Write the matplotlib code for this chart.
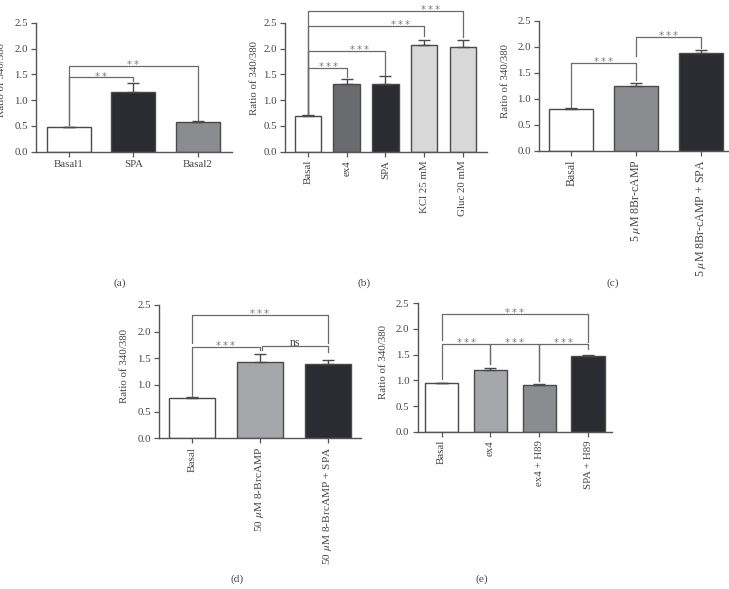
import numpy as np
import matplotlib
matplotlib.use("Agg")
import matplotlib.pyplot as plt

plt.rcParams['font.family'] = ['Liberation Serif', 'DejaVu Serif']
plt.rcParams['mathtext.fontset'] = 'stix'

# ---------------- data ----------------
a_labels = ["Basal1", "SPA", "Basal2"]
a_values = [0.47, 1.16, 0.57]
a_errors = [0.01, 0.17, 0.02]

b_labels = ["Basal", "ex4", "SPA", "KCl 25 mM", "Gluc 20 mM"]
b_values = [0.70, 1.31, 1.32, 2.06, 2.03]
b_errors = [0.01, 0.10, 0.15, 0.11, 0.14]

c_labels = ["Basal", r"5 $\mu$M 8Br-cAMP", r"5 $\mu$M 8Br-cAMP + SPA"]
c_values = [0.81, 1.25, 1.88]
c_errors = [0.01, 0.06, 0.06]

d_labels = ["Basal", r"50 $\mu$M 8-BrcAMP", r"50 $\mu$M 8-BrcAMP + SPA"]
d_values = [0.755, 1.44, 1.39]
d_errors = [0.015, 0.15, 0.08]

e_labels = ["Basal", "ex4", "ex4 + H89", "SPA + H89"]
e_values = [0.94, 1.21, 0.91, 1.48]
e_errors = [0.01, 0.04, 0.02, 0.01]

yticks = [0.0, 0.5, 1.0, 1.5, 2.0, 2.5]
ylabel = "Ratio of 340/380"

# significance brackets: (i, j, height, left leg end, right leg end, text, text fraction)
a_brackets = [(0, 1, 1.44, 0.52, 1.37, "**", 0.5),
              (0, 2, 1.66, 0.52, 0.62, "**", 0.5)]
b_brackets = [(0, 1, 1.62, 0.73, 1.45, "***", 0.54),
              (0, 2, 1.96, 0.73, 1.48, "***", 0.66),
              (0, 3, 2.44, 0.73, 2.24, "***", 0.80),
              (0, 4, 2.73, 0.73, 2.22, "***", 0.79)]
c_brackets = [(0, 1, 1.70, 0.85, 1.37, "***", 0.5),
              (1, 2, 2.20, 1.83, 1.98, "***", 0.5)]
d_brackets = [(0, 2, 2.31, 1.78, 1.78, "***", 0.5),
              (0, 1, 1.72, 0.80, 1.65, "***", 0.5),
              (1.03, 2, 1.74, 1.65, 1.62, "ns", 0.5)]
e_brackets = [(0, 3, 2.29, 1.78, 1.75, "***", 0.5),
              (0, 1, 1.71, 1.03, 1.32, "***", 0.5),
              (1, 2, 1.71, 1.32, 0.99, "***", 0.5),
              (2, 3, 1.71, 0.99, 1.61, "***", 0.5)]

# ---------------- style ----------------
WHITE = "#ffffff"
DARK = "#2b2c31"
MID = "#8b8c8f"
DGRAY = "#6a6b6e"
LGRAY = "#d8d8d8"
LMID = "#a6a7aa"
a_colors = [WHITE, DARK, MID]
b_colors = [WHITE, DGRAY, DARK, LGRAY, LGRAY]
c_colors = [WHITE, MID, DARK]
d_colors = [WHITE, LMID, DARK]
e_colors = [WHITE, LMID, MID, DARK]

EDGE = "#4a4a4a"
TXT = "#454545"
BR = "#6a6a6a"
FS = 7.8

W, H = 729, 589
fig = plt.figure(figsize=(W / 100, H / 100), dpi=100)


def make_axes(left, right, top, bottom):
    return fig.add_axes([left / W, 1 - bottom / H, (right - left) / W, (bottom - top) / H])


def panel(ax, labels, values, errors, colors, brackets, xlim, rotation,
          label_right_px, left_px, right_px, label_y=0.55, xfs=FS):
    x = np.arange(len(values))
    ax.bar(x, values, width=0.68, color=colors, edgecolor=EDGE, linewidth=1.0, zorder=2)
    ax.errorbar(x, values, yerr=[np.zeros(len(errors)), errors], fmt='none',
                ecolor=EDGE, elinewidth=1.0, capsize=4, capthick=1.0, zorder=3)
    for (i, j, y, yl, yr, txt, frac) in brackets:
        ax.plot([i, i, j, j], [yl, y, y, yr], color=BR, lw=0.9, clip_on=False, zorder=4)
        xm = i + (j - i) * frac
        if txt == "ns":
            ax.annotate(txt, (xm, y), xytext=(0, -0.3), textcoords='offset points',
                        ha='center', va='baseline', fontsize=FS + 0.8, color=TXT,
                        annotation_clip=False)
        else:
            stars = "\u2009".join(txt)
            ax.annotate(stars, (xm, y), xytext=(0, -1.6), textcoords='offset points',
                        ha='center', va='baseline', fontsize=7.2, color="#777777",
                        family='DejaVu Sans', annotation_clip=False)
    ax.set_xlim(*xlim)
    ax.set_ylim(0, 2.5)
    ax.set_yticks(yticks)
    ax.set_yticklabels([f"{t:.1f}" for t in yticks])
    ax.set_xticks(x)
    if rotation:
        ax.set_xticklabels(labels, rotation=90, ha='center', va='top', fontsize=xfs)
    else:
        ax.set_xticklabels(labels, fontsize=xfs)
    for s in ['top', 'right']:
        ax.spines[s].set_visible(False)
    for s in ['left', 'bottom']:
        ax.spines[s].set_color("#555555")
        ax.spines[s].set_linewidth(1.0)
    ax.tick_params(axis='both', colors="#555555", labelcolor=TXT,
                   length=3.5, width=0.9, pad=2.5)
    ax.tick_params(axis='y', labelsize=FS)
    ax.set_ylabel(ylabel, fontsize=FS, color=TXT)
    ax.yaxis.set_label_coords((label_right_px - left_px) / (right_px - left_px), label_y)


# (a)
ax = make_axes(36, 232, 22.7, 151.7)
panel(ax, a_labels, a_values, a_errors, a_colors, a_brackets, (-0.51, 2.53), False,
      6, 36, 232, 0.555)
# (b)
ax = make_axes(285, 487, 22.7, 151.7)
panel(ax, b_labels, b_values, b_errors, b_colors, b_brackets, (-0.59, 4.62), True,
      259, 285, 487, 0.57)
# (c)
ax = make_axes(539, 729, 21, 151)
panel(ax, c_labels, c_values, c_errors, c_colors, c_brackets, (-0.50, 2.44), True,
      510, 539, 729, 0.54, 8.6)
# (d)
ax = make_axes(159.3, 361, 305, 438.3)
panel(ax, d_labels, d_values, d_errors, d_colors, d_brackets, (-0.48, 2.49), True,
      129, 159.3, 361, 0.54, 8.2)
# (e)
ax = make_axes(417.7, 612, 303.3, 431.7)
panel(ax, e_labels, e_values, e_errors, e_colors, e_brackets, (-0.49, 3.49), True,
      388, 417.7, 612, 0.54)

for lab, px, py in [("(a)", 120, 283), ("(b)", 364, 283), ("(c)", 613, 283),
                    ("(d)", 237, 579), ("(e)", 482, 579)]:
    fig.text(px / W, 1 - py / H, lab, ha='center', va='center', fontsize=FS + 0.4, color=TXT)

fig.savefig("out.png", dpi=100)
